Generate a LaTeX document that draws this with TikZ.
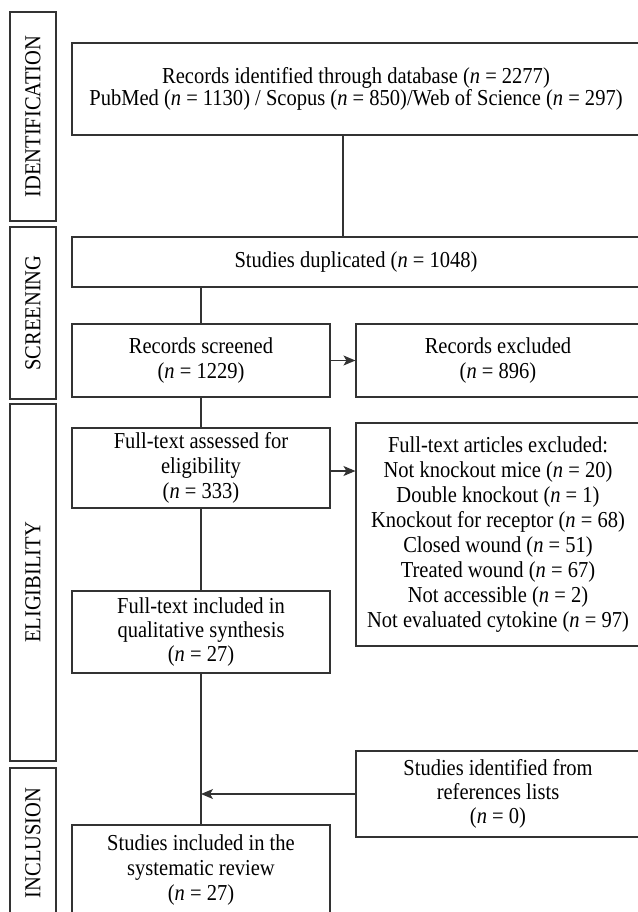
\documentclass[tikz,border=0pt]{standalone}
\usepackage{fontspec}
\setmainfont[FakeStretch=0.9]{Liberation Serif}
\usetikzlibrary{arrows.meta}
\definecolor{linec}{HTML}{333333}
\newcommand\fs{\fontsize{22.8}{25}\selectfont}
\newcommand\fst{\fontsize{22.8}{19}\selectfont}
\newcommand\nn{\textit{n}}
\tikzset{
  box/.style={draw=linec, line width=1.1pt, inner sep=0pt, align=center, font=\fs, text=black},
  lab/.style={box, rotate=90},
  conn/.style={draw=linec, line width=1.1pt},
  arr/.style={conn, -{Stealth[length=12pt,width=10pt,inset=3pt]}},
}
\begin{document}
\begin{tikzpicture}[x=1pt,y=-1pt]
\useasboundingbox (0,0) rectangle (637,912);
% phase labels
\node[lab, minimum width=209pt, minimum height=46pt] (idl) at (33,116.5) {IDENTIFICATION};
\node[lab, minimum width=172pt, minimum height=46pt] (scl) at (33,313) {SCREENING};
\node[lab, minimum width=357pt, minimum height=46pt] (ell) at (33,582.5) {ELIGIBILITY};
\node[lab, minimum width=150pt, minimum height=46pt] (inl) at (33,843) {INCLUSION};
% boxes
\node[box, font=\fst, minimum width=568pt, minimum height=92pt] (top) at (356,89)
  {Records identified through database (\nn{} = 2277)\\PubMed (\nn{} = 1130) / Scopus (\nn{} = 850)/Web of Science (\nn{} = 297)};
\node[box, minimum width=568pt, minimum height=50pt] (dup) at (356,262) {Studies duplicated (\nn{} = 1048)};
\node[box, minimum width=258pt, minimum height=73pt] (scr) at (201,360.5) {Records screened\\(\nn{} = 1229)};
\node[box, minimum width=284pt, minimum height=73pt] (exc) at (498,360.5) {Records excluded\\(\nn{} = 896)};
\node[box, minimum width=258pt, minimum height=80pt] (ass) at (201,468) {Full-text assessed for\\eligibility\\(\nn{} = 333)};
\node[box, minimum width=284pt, minimum height=223pt] (exl) at (498,534.5)
  {Full-text articles excluded:\\Not knockout mice (\nn{} = 20)\\Double knockout (\nn{} = 1)\\Knockout for receptor (\nn{} = 68)\\Closed wound (\nn{} = 51)\\Treated wound (\nn{} = 67)\\Not accessible (\nn{} = 2)\\Not evaluated cytokine (\nn{} = 97)};
\node[box, font=\fontsize{22.8}{24}\selectfont, minimum width=258pt, minimum height=82pt] (inc) at (201,632) {Full-text included in\\qualitative synthesis\\(\nn{} = 27)};
\node[box, font=\fontsize{22.8}{24}\selectfont, minimum width=284pt, minimum height=86pt] (ref) at (498,794) {Studies identified from\\references lists\\(\nn{} = 0)};
\node[box, minimum width=258pt, minimum height=91pt] (fin) at (201,870.5) {Studies included in the\\systematic review\\(\nn{} = 27)};
% connectors
\coordinate (vx) at (343,0);
\draw[conn] (top.south -| vx) -- (dup.north -| vx);
\draw[conn] (dup.south -| scr.north) -- (scr.north);
\draw[arr] (scr.east) -- (exc.west);
\draw[conn] (scr.south) -- (ass.north);
\draw[arr] ([yshift=-3pt]ass.east) -- ([yshift=-3pt]ass.east -| exl.west);
\draw[conn] (ass.south) -- (inc.north);
\draw[conn] (inc.south) -- (fin.north);
\draw[arr] (ref.west) -- (ref.west -| fin.north);
\end{tikzpicture}
\end{document}
